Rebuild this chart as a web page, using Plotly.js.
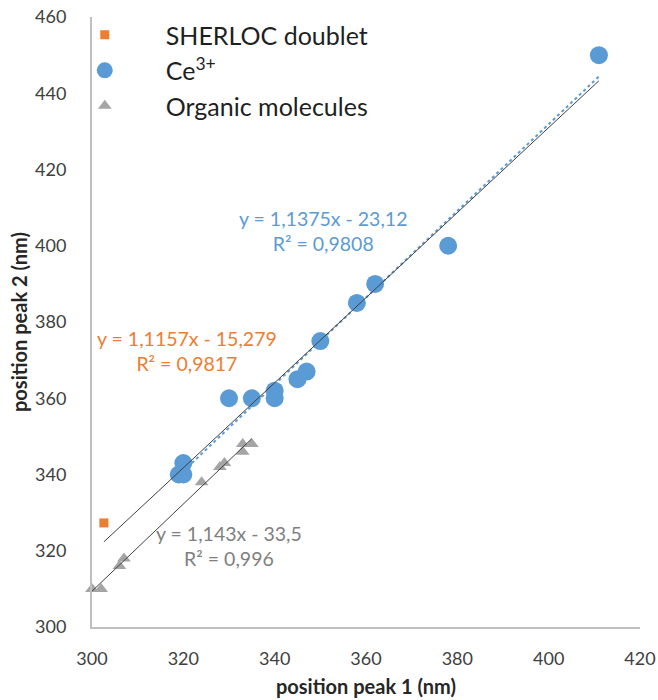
<!DOCTYPE html>
<html>
<head>
<meta charset="utf-8">
<script src="https://cdn.plot.ly/plotly-3.0.1.min.js"></script>
<style>html,body{margin:0;padding:0;background:#fff;}#chart{width:658px;height:700px;}</style>
</head>
<body>
<div id="chart"></div>
<script>
// ---- data ----
const sherlocX = [302.6];
const sherlocY = [327.3];

const ceX = [411, 378, 362, 358, 350, 347, 345, 340, 340, 335, 330, 320, 319, 320];
const ceY = [450, 400, 390, 385, 375, 367, 365, 362, 360, 360, 360, 343, 340, 340];

const orgX = [300, 302, 306, 307, 324, 328, 329, 333, 333, 335];
const orgY = [310, 310, 316, 318, 338, 342, 343, 346, 348, 348];

// trendline equations shown on the chart (slope, intercept) and their x extents
const sherlocFit = {slope: 1.1157, intercept: -15.279, xRange: [302.6, 411]};
const ceFit      = {slope: 1.1375, intercept: -23.12,  xRange: [319, 411]};
const orgFit     = {slope: 1.143,  intercept: -33.5,   xRange: [300, 335]};

const eqSherloc = "y = 1,1157x - 15,279<br>R² = 0,9817";
const eqCe      = "y = 1,1375x - 23,12<br>R² = 0,9808";
const eqOrg     = "y = 1,143x - 33,5<br>R² = 0,996";

const xTicks = [300, 320, 340, 360, 380, 400, 420];
const yTicks = [300, 320, 340, 360, 380, 400, 420, 440, 460];

const FONT = "Lato, 'Open Sans', sans-serif";
const ORANGE = "#ED7D31", BLUE = "#5B9BD5", GRAY = "#A5A5A5";

function fitLine(f) {
  return {x: f.xRange, y: f.xRange.map(v => f.slope * v + f.intercept)};
}
const lS = fitLine(sherlocFit), lC = fitLine(ceFit), lO = fitLine(orgFit);

const traces = [
  {x: sherlocX, y: sherlocY, type: "scatter", mode: "markers", name: "SHERLOC doublet",
   legendgroup: "a", marker: {symbol: "square", size: 9, color: ORANGE}, cliponaxis: false},
  {x: ceX, y: ceY, type: "scatter", mode: "markers", name: "Ce<sup>3+</sup>",
   legendgroup: "b", marker: {symbol: "circle", size: 18, color: BLUE}, cliponaxis: false},
  {x: orgX, y: orgY, type: "scatter", mode: "markers", name: "Organic molecules",
   legendgroup: "c", marker: {symbol: "triangle-up", size: 12, color: GRAY}, cliponaxis: false},
  {x: lC.x, y: lC.y, type: "scatter", mode: "lines", showlegend: false, hoverinfo: "skip",
   line: {color: BLUE, width: 2, dash: "dot"}},
  {x: lS.x, y: lS.y, type: "scatter", mode: "lines", showlegend: false, hoverinfo: "skip",
   line: {color: "#404040", width: 1}},
  {x: lO.x, y: lO.y, type: "scatter", mode: "lines", showlegend: false, hoverinfo: "skip",
   line: {color: "#404040", width: 1}}
];

const layout = {
  width: 658, height: 700,
  margin: {l: 92, r: 18, t: 17, b: 73},
  paper_bgcolor: "#fff", plot_bgcolor: "#fff",
  font: {family: FONT, color: "#404040"},
  showlegend: true,
  legend: {x: -0.088, y: 1.008, xanchor: "left", yanchor: "top", bgcolor: "rgba(0,0,0,0)",
           font: {family: FONT, size: 25, color: "#1f1f1f"}, itemwidth: 112, tracegroupgap: 0},
  xaxis: {range: [300, 420], tickvals: xTicks, ticktext: xTicks.map(String), showgrid: false, zeroline: false,
          showline: true, linecolor: "#BFBFBF", linewidth: 2, ticks: "", ticklabelstandoff: 14,
          tickfont: {family: FONT, size: 18, color: "#404040"},
          title: {text: "position peak 1 (nm)", standoff: 12, font: {family: FONT, size: 20, color: "#262626", weight: "bold"}}},
  yaxis: {range: [300, 460], tickvals: yTicks, ticktext: yTicks.map(String), showgrid: false, zeroline: false,
          showline: true, linecolor: "#BFBFBF", linewidth: 2, ticks: "", ticklabelstandoff: 20,
          tickfont: {family: FONT, size: 18, color: "#404040"},
          title: {text: "position peak 2 (nm)", standoff: 2, font: {family: FONT, size: 20, color: "#262626", weight: "bold"}}},
  annotations: [
    {x: 350.6, y: 404, xref: "x", yref: "y", text: eqCe, showarrow: false, align: "center",
     font: {family: FONT, size: 19.5, color: BLUE}},
    {x: 320.8, y: 372.4, xref: "x", yref: "y", text: eqSherloc, showarrow: false, align: "center",
     font: {family: FONT, size: 19.5, color: ORANGE}},
    {x: 330, y: 321.2, xref: "x", yref: "y", text: eqOrg, showarrow: false, align: "center",
     font: {family: FONT, size: 19.5, color: "#7F7F7F"}}
  ]
};

Plotly.newPlot("chart", traces, layout, {displayModeBar: false, staticPlot: true});
</script>
</body>
</html>
